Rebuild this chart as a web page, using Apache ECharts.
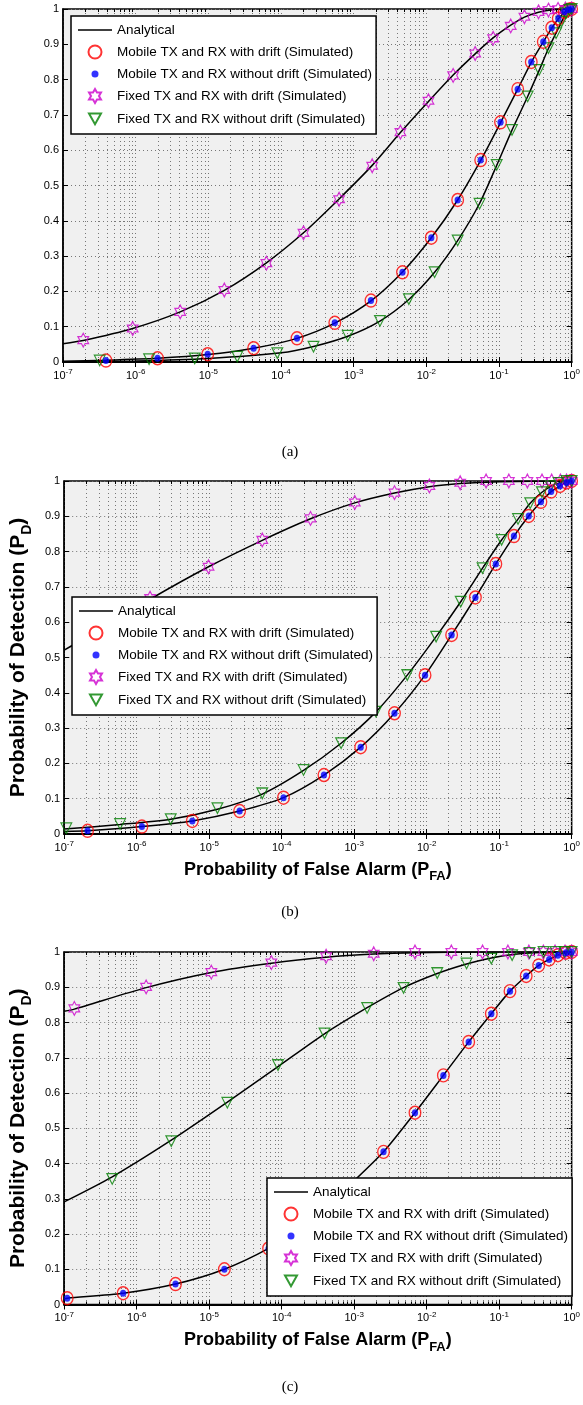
<!DOCTYPE html>
<html>
<head>
<meta charset="utf-8">
<script src="https://cdn.jsdelivr.net/npm/echarts@6/dist/echarts.min.js"></script>
<style>
  html, body { margin: 0; padding: 0; background: #fff; }
  #chart { width: 583px; height: 1405px; }
</style>
</head>
<body>
<div id="chart"></div>
<script>
// ---------------- data (P_FA, P_D) ----------------
const NAME_ANALYTICAL = 'Analytical';
const NAME_MOBILE_DRIFT = 'Mobile TX and RX with drift (Simulated)';
const NAME_MOBILE_NODRIFT = 'Mobile TX and RX without drift (Simulated)';
const NAME_FIXED_DRIFT = 'Fixed TX and RX with drift (Simulated)';
const NAME_FIXED_NODRIFT = 'Fixed TX and RX without drift (Simulated)';

const xExponents = [-7, -6, -5, -4, -3, -2, -1, 0];
const yTicks = [0, 0.1, 0.2, 0.3, 0.4, 0.5, 0.6, 0.7, 0.8, 0.9, 1];
const panelCaptions = ['(a)', '(b)', '(c)'];

// panel (a)
const aCurveFixedDrift = [[1e-7,0.052],[1.9e-7,0.061],[9.1e-7,0.095],[4.1e-6,0.142],[1.66e-5,0.203],[6.3e-5,0.281],[2.04e-4,0.366],[6.3e-4,0.462],[1.8e-3,0.557],[4.4e-3,0.65],[1.07e-2,0.738],[2.34e-2,0.813],[4.7e-2,0.873],[8.3e-2,0.918],[0.145,0.954],[0.224,0.977],[0.35,0.991],[0.55,0.998],[1,1]];
const aCurveMobile = [[1e-7,0.002],[3.9e-7,0.005],[2.0e-6,0.0105],[9.8e-6,0.021],[4.2e-5,0.039],[1.66e-4,0.067],[5.5e-4,0.11],[1.73e-3,0.173],[4.7e-3,0.255],[1.17e-2,0.352],[2.7e-2,0.459],[5.6e-2,0.571],[0.105,0.678],[0.181,0.773],[0.278,0.849],[0.407,0.907],[0.532,0.946],[0.655,0.972],[0.79,0.99],[1,1]];
const aCurveFixedNoDrift = [[1e-7,0.0005],[1e-6,0.003],[1e-5,0.01],[1e-4,0.026],[2.8e-4,0.044],[8.3e-4,0.073],[2.3e-3,0.116],[5.75e-3,0.177],[1.3e-2,0.254],[2.7e-2,0.344],[5.4e-2,0.449],[9.3e-2,0.557],[0.151,0.657],[0.248,0.752],[0.357,0.826],[0.479,0.888],[0.61,0.932],[0.724,0.963],[0.83,0.985],[1,1]];
const aMobileDrift = [[3.9e-7,0.004],[2.0e-6,0.0105],[9.8e-6,0.022],[4.2e-5,0.039],[1.66e-4,0.067],[5.5e-4,0.111],[1.73e-3,0.174],[4.7e-3,0.254],[1.17e-2,0.352],[2.7e-2,0.459],[5.6e-2,0.572],[0.105,0.679],[0.181,0.773],[0.278,0.85],[0.407,0.907],[0.532,0.947],[0.655,0.973],[0.79,0.992],[0.9,0.998],[1,1]];
const aMobileNoDrift = [[3.9e-7,0.004],[2.0e-6,0.0105],[9.8e-6,0.022],[4.2e-5,0.039],[1.66e-4,0.067],[5.5e-4,0.111],[1.73e-3,0.174],[4.7e-3,0.254],[1.17e-2,0.352],[2.7e-2,0.459],[5.6e-2,0.572],[0.105,0.679],[0.181,0.773],[0.278,0.85],[0.407,0.907],[0.532,0.947],[0.655,0.973],[0.79,0.992],[0.9,0.998],[1,1]];
const aFixedDrift = [[1.9e-7,0.062],[9.1e-7,0.095],[4.1e-6,0.142],[1.66e-5,0.204],[6.3e-5,0.28],[2.04e-4,0.366],[6.3e-4,0.461],[1.8e-3,0.556],[4.4e-3,0.651],[1.07e-2,0.74],[2.34e-2,0.812],[4.7e-2,0.874],[8.3e-2,0.917],[0.145,0.952],[0.224,0.978],[0.35,0.992],[0.48,0.997],[0.65,0.999],[0.82,1],[1,1]];
const aFixedNoDrift = [[3.2e-7,0.004],[1.53e-6,0.008],[6.5e-6,0.01],[2.5e-5,0.015],[8.9e-5,0.025],[2.8e-4,0.043],[8.3e-4,0.074],[2.3e-3,0.116],[5.75e-3,0.178],[1.3e-2,0.254],[2.7e-2,0.344],[5.4e-2,0.448],[9.3e-2,0.558],[0.151,0.657],[0.248,0.752],[0.357,0.827],[0.479,0.889],[0.61,0.931],[0.724,0.964],[0.83,0.988],[0.93,0.997],[1,1]];

// panel (b)
const bCurveFixedDrift = [[1e-7,0.521],[2.5e-7,0.568],[1.53e-6,0.665],[9.8e-6,0.757],[5.4e-5,0.832],[2.5e-4,0.893],[1.02e-3,0.938],[3.6e-3,0.966],[1.09e-2,0.984],[2.9e-2,0.993],[0.1,0.998],[1,1]];
const bCurveMobile = [[1e-7,0.007],[2.1e-7,0.009],[1.18e-6,0.021],[5.85e-6,0.037],[2.63e-5,0.065],[1.06e-4,0.103],[3.83e-4,0.167],[1.23e-3,0.246],[3.6e-3,0.342],[9.5e-3,0.45],[2.21e-2,0.564],[4.7e-2,0.67],[9.0e-2,0.765],[0.16,0.844],[0.256,0.901],[0.377,0.941],[0.521,0.97],[0.69,0.986],[0.85,0.996],[1,1]];
const bCurveFixedNoDrift = [[1e-7,0.014],[5.9e-7,0.027],[2.95e-6,0.042],[1.3e-5,0.07],[5.4e-5,0.113],[2.0e-4,0.18],[6.6e-4,0.257],[2.0e-3,0.346],[5.4e-3,0.45],[1.35e-2,0.559],[2.95e-2,0.658],[5.9e-2,0.753],[0.108,0.833],[0.182,0.892],[0.268,0.937],[0.389,0.968],[0.513,0.985],[0.66,0.994],[0.85,0.999],[1,1]];
const bMobileDrift = [[2.1e-7,0.009],[1.18e-6,0.021],[5.85e-6,0.037],[2.63e-5,0.065],[1.06e-4,0.103],[3.83e-4,0.167],[1.23e-3,0.246],[3.6e-3,0.342],[9.5e-3,0.45],[2.21e-2,0.564],[4.7e-2,0.67],[9.0e-2,0.765],[0.16,0.844],[0.256,0.901],[0.377,0.941],[0.521,0.97],[0.69,0.986],[0.85,0.996],[1,1]];
const bMobileNoDrift = [[2.1e-7,0.009],[1.18e-6,0.021],[5.85e-6,0.037],[2.63e-5,0.065],[1.06e-4,0.103],[3.83e-4,0.167],[1.23e-3,0.246],[3.6e-3,0.342],[9.5e-3,0.45],[2.21e-2,0.564],[4.7e-2,0.67],[9.0e-2,0.765],[0.16,0.844],[0.256,0.901],[0.377,0.941],[0.521,0.97],[0.69,0.986],[0.85,0.996],[1,1]];
const bFixedDrift = [[2.5e-7,0.57],[1.53e-6,0.668],[9.8e-6,0.757],[5.4e-5,0.833],[2.5e-4,0.894],[1.02e-3,0.939],[3.6e-3,0.967],[1.09e-2,0.986],[2.9e-2,0.995],[6.6e-2,1],[0.136,1],[0.245,1],[0.39,1],[0.53,1],[0.7,1],[0.85,1],[1,1]];
const bFixedNoDrift = [[1.07e-7,0.016],[5.9e-7,0.028],[2.95e-6,0.042],[1.3e-5,0.073],[5.4e-5,0.115],[2.0e-4,0.181],[6.6e-4,0.257],[2.0e-3,0.346],[5.4e-3,0.45],[1.35e-2,0.559],[2.95e-2,0.658],[5.9e-2,0.753],[0.108,0.833],[0.182,0.892],[0.268,0.937],[0.389,0.968],[0.513,0.985],[0.66,0.994],[0.85,1],[1,1]];

// panel (c)
const cCurveFixedDrift = [[1e-7,0.832],[1.38e-7,0.838],[1.35e-6,0.899],[1.07e-5,0.942],[7.2e-5,0.968],[4.1e-4,0.985],[1.86e-3,0.994],[6.9e-3,0.998],[5.9e-2,1],[1,1]];
const cCurveMobile = [[1e-7,0.016],[1.1e-7,0.018],[6.5e-7,0.032],[3.43e-6,0.058],[1.62e-5,0.1],[6.6e-5,0.159],[2.5e-4,0.234],[8.1e-4,0.333],[2.54e-3,0.433],[6.9e-3,0.544],[1.7e-2,0.65],[3.8e-2,0.745],[7.8e-2,0.825],[0.141,0.889],[0.236,0.932],[0.351,0.962],[0.49,0.979],[0.646,0.991],[0.83,0.998],[1,1]];
const cCurveFixedNoDrift = [[1e-7,0.291],[4.6e-7,0.362],[3.0e-6,0.466],[1.78e-5,0.574],[8.9e-5,0.675],[3.9e-4,0.768],[1.51e-3,0.842],[4.8e-3,0.899],[1.4e-2,0.939],[3.55e-2,0.966],[7.8e-2,0.983],[0.151,0.993],[0.3,0.998],[1,1]];
const cMobileDrift = [[1.1e-7,0.018],[6.5e-7,0.032],[3.43e-6,0.058],[1.62e-5,0.1],[6.6e-5,0.159],[2.5e-4,0.234],[8.1e-4,0.333],[2.54e-3,0.433],[6.9e-3,0.544],[1.7e-2,0.65],[3.8e-2,0.745],[7.8e-2,0.825],[0.141,0.889],[0.236,0.932],[0.351,0.962],[0.49,0.979],[0.646,0.991],[0.83,0.998],[1,1]];
const cMobileNoDrift = [[1.1e-7,0.018],[6.5e-7,0.032],[3.43e-6,0.058],[1.62e-5,0.1],[6.6e-5,0.159],[2.5e-4,0.234],[8.1e-4,0.333],[2.54e-3,0.433],[6.9e-3,0.544],[1.7e-2,0.65],[3.8e-2,0.745],[7.8e-2,0.825],[0.141,0.889],[0.236,0.932],[0.351,0.962],[0.49,0.979],[0.646,0.991],[0.83,0.998],[1,1]];
const cFixedDrift = [[1.38e-7,0.84],[1.35e-6,0.901],[1.07e-5,0.943],[7.2e-5,0.97],[4.1e-4,0.988],[1.86e-3,0.995],[6.9e-3,1],[2.19e-2,1],[5.9e-2,1],[0.132,1],[0.257,1],[0.407,1],[0.59,1],[0.81,1],[1,1]];
const cFixedNoDrift = [[4.6e-7,0.356],[3.0e-6,0.463],[1.78e-5,0.572],[8.9e-5,0.679],[3.9e-4,0.769],[1.51e-3,0.841],[4.8e-3,0.898],[1.4e-2,0.94],[3.55e-2,0.967],[7.8e-2,0.981],[0.151,0.991],[0.263,0.997],[0.41,1],[0.6,1],[0.8,1],[1,1]];

// ---------------- layout & style ----------------
const FONT = 'Liberation Sans';
const GRID_LEFT = 63, GRID_WIDTH = 514;
const panels = [
  { top: 9,   height: 353,   legendLeft: 71,  legendTop: 16,   captionY: 452,  titles: false,
    curves: [aCurveFixedDrift, aCurveMobile, aCurveFixedNoDrift],
    marks: [aMobileDrift, aMobileNoDrift, aFixedDrift, aFixedNoDrift] },
  { top: 481, height: 353,   legendLeft: 72,  legendTop: 597,  captionY: 912,  titles: true,
    curves: [bCurveFixedDrift, bCurveMobile, bCurveFixedNoDrift],
    marks: [bMobileDrift, bMobileNoDrift, bFixedDrift, bFixedNoDrift] },
  { top: 952, height: 352.5, legendLeft: 267, legendTop: 1178, captionY: 1387, titles: true,
    curves: [cCurveFixedDrift, cCurveMobile, cCurveFixedNoDrift],
    marks: [cMobileDrift, cMobileNoDrift, cFixedDrift, cFixedNoDrift] }
];

// marker shapes drawn inside a 14x14 frame so that relative sizes are kept
const FRAME = 'M0,0M14,14';
const ICON_LINE = 'path://M0,0M34,14M0,6.3L34,6.3L34,7.7L0,7.7Z';
const ICON_CIRCLE = 'path://' + FRAME + 'M0.5,7a6.5,6.5 0 1 0 13,0a6.5,6.5 0 1 0 -13,0Z';
const ICON_DOT = 'path://' + FRAME + 'M3.5,7a3.5,3.5 0 1 0 7,0a3.5,3.5 0 1 0 -7,0Z';
const ICON_STAR = 'path://' + FRAME + 'M7,0.1L8.99,3.55L12.98,3.55L10.98,7L12.98,10.45L8.99,10.45L7,13.9L5.01,10.45L1.02,10.45L3.02,7L1.02,3.55L5.01,3.55Z';
const ICON_TRI = 'path://' + FRAME + 'M1,1.6L13,1.6L7,12.2Z';
const MARK_SIZE = [12.5, 14];

const markStyles = [
  { name: NAME_MOBILE_DRIFT,   symbol: ICON_CIRCLE, itemStyle: { color: 'transparent', borderColor: '#ff0000', borderWidth: 1.4 }, z: 4 },
  { name: NAME_MOBILE_NODRIFT, symbol: ICON_DOT,    itemStyle: { color: '#0000ff', borderWidth: 0 }, z: 5 },
  { name: NAME_FIXED_DRIFT,    symbol: ICON_STAR,   itemStyle: { color: 'transparent', borderColor: '#cc00cc', borderWidth: 1.2 }, z: 4 },
  { name: NAME_FIXED_NODRIFT,  symbol: ICON_TRI,    itemStyle: { color: 'transparent', borderColor: '#008000', borderWidth: 1.2 }, z: 4 }
];

// minor grid positions of the log axis (2..9 within every decade)
const minorPositions = [];
for (let k = -7; k < 0; k++) {
  for (let m = 2; m <= 9; m++) minorPositions.push([m * Math.pow(10, k), 0.5]);
}

const GRID_DOT_COLOR = '#777777';
const DOT_LINE = { color: GRID_DOT_COLOR, width: 1, type: [1, 3] };
const xMin = Math.pow(10, xExponents[0]);
const xMax = Math.pow(10, xExponents[xExponents.length - 1]);

const xTitle = '{t|Probability of False Alarm (P}{s|FA}{t|)}';
const yTitle = '{t|Probability of Detection (P}{s|D}{t|)}';
const xTitleRich = {
  t: { fontFamily: FONT, fontSize: 18, fontWeight: 'bold', color: '#000', verticalAlign: 'top' },
  s: { fontFamily: FONT, fontSize: 13, fontWeight: 'bold', color: '#000', verticalAlign: 'top', padding: [9, 0, 0, 0] }
};
const yTitleRich = {
  t: { fontFamily: FONT, fontSize: 21, fontWeight: 'bold', color: '#000', verticalAlign: 'top' },
  s: { fontFamily: FONT, fontSize: 14, fontWeight: 'bold', color: '#000', verticalAlign: 'top', padding: [12, 0, 0, 0] }
};

const option = {
  animation: false,
  backgroundColor: '#ffffff',
  textStyle: { fontFamily: FONT, color: '#000' },
  grid: [], xAxis: [], yAxis: [], series: [], legend: [], graphic: []
};

panels.forEach((p, i) => {
  option.grid.push({
    left: GRID_LEFT, width: GRID_WIDTH, top: p.top, height: p.height,
    show: true, backgroundColor: '#f0f0f0', borderColor: '#000', borderWidth: 1.5, z: 0
  });
  // bottom log axis with decade labels
  option.xAxis.push({
    type: 'log', logBase: 10, gridIndex: i, min: xMin, max: xMax, position: 'bottom',
    name: p.titles ? xTitle : '', nameLocation: 'middle', nameGap: 27,
    nameTextStyle: { rich: xTitleRich },
    axisLine: { show: true, lineStyle: { color: '#000', width: 2 } },
    axisTick: { show: true, inside: true, length: 5, lineStyle: { color: '#000', width: 1 } },
    axisLabel: {
      margin: 6,
      formatter: v => '{b|10}{s|' + Math.round(Math.log10(v)) + '}',
      rich: {
        b: { fontFamily: FONT, fontSize: 11, color: '#000', verticalAlign: 'bottom' },
        s: { fontFamily: FONT, fontSize: 8, color: '#000', verticalAlign: 'bottom', padding: [0, 0, 5, 0] }
      }
    },
    splitLine: { show: true, lineStyle: DOT_LINE }
  });
  // top axis: tick marks only
  option.xAxis.push({
    type: 'log', logBase: 10, gridIndex: i, min: xMin, max: xMax, position: 'top',
    axisLine: { show: false },
    axisTick: { show: true, inside: true, length: 5, lineStyle: { color: '#000', width: 1 } },
    axisLabel: { show: false }, splitLine: { show: false }
  });
  option.yAxis.push({
    type: 'value', gridIndex: i, min: yTicks[0], max: yTicks[yTicks.length - 1], interval: 0.1, position: 'left',
    name: p.titles ? yTitle : '', nameLocation: 'middle', nameRotate: 90, nameGap: 27,
    nameTextStyle: { rich: yTitleRich },
    axisLine: { show: true, lineStyle: { color: '#000', width: 1.5 } },
    axisTick: { show: true, inside: true, length: 5, lineStyle: { color: '#000', width: 1 } },
    axisLabel: { margin: 4, fontSize: 11, color: '#000', fontFamily: FONT,
                 formatter: v => String(parseFloat(v.toFixed(1))) },
    splitLine: { show: true, lineStyle: DOT_LINE }
  });
  option.yAxis.push({
    type: 'value', gridIndex: i, min: yTicks[0], max: yTicks[yTicks.length - 1], interval: 0.1, position: 'right',
    axisLine: { show: false },
    axisTick: { show: true, inside: true, length: 5, lineStyle: { color: '#000', width: 1 } },
    axisLabel: { show: false }, splitLine: { show: false }
  });

  const xi = 2 * i, yi = 2 * i;

  // minor grid lines and minor ticks of the log axis
  option.series.push({
    type: 'custom', name: 'minor-grid-' + i, xAxisIndex: xi, yAxisIndex: yi, z: 1, silent: true,
    data: minorPositions, encode: { x: 0, y: 1 },
    renderItem: (params, api) => {
      const x = Math.round(api.coord([api.value(0), 0.5])[0]) + 0.5;
      const cs = params.coordSys;
      const y0 = cs.y, y1 = cs.y + cs.height;
      return { type: 'group', children: [
        { type: 'line', shape: { x1: x, y1: y0, x2: x, y2: y1 }, style: { stroke: GRID_DOT_COLOR, lineWidth: 1, lineDash: [1, 3] } },
        { type: 'line', shape: { x1: x, y1: y0, x2: x, y2: y0 + 3 }, style: { stroke: '#000', lineWidth: 1 } },
        { type: 'line', shape: { x1: x, y1: y1, x2: x, y2: y1 - 3 }, style: { stroke: '#000', lineWidth: 1 } }
      ] };
    }
  });

  // analytical curves
  p.curves.forEach(curve => {
    option.series.push({
      type: 'line', name: NAME_ANALYTICAL, xAxisIndex: xi, yAxisIndex: yi, z: 3,
      data: curve, symbol: 'none', showSymbol: false, smooth: 0.25,
      itemStyle: { color: '#000' }, lineStyle: { color: '#000', width: 1.5 }, silent: true
    });
  });

  // simulated points
  p.marks.forEach((pts, k) => {
    const st = markStyles[k];
    option.series.push({
      type: 'scatter', name: st.name, xAxisIndex: xi, yAxisIndex: yi, z: st.z, clip: false,
      data: pts, symbol: st.symbol, symbolSize: MARK_SIZE, itemStyle: st.itemStyle, silent: true
    });
  });

  option.legend.push({
    orient: 'vertical', left: p.legendLeft, top: p.legendTop, z: 10,
    padding: [7, 4, 7, 7], itemGap: 7, itemWidth: 34, itemHeight: 14,
    backgroundColor: '#ffffff', borderColor: '#000', borderWidth: 1.5, borderRadius: 0,
    selectedMode: false,
    textStyle: { fontFamily: FONT, fontSize: 13.5, color: '#000', lineHeight: 14, padding: [0, 0, 0, 0] },
    data: [
      { name: NAME_ANALYTICAL, icon: ICON_LINE, itemStyle: { color: '#000', borderWidth: 0 } },
      { name: NAME_MOBILE_DRIFT, icon: ICON_CIRCLE },
      { name: NAME_MOBILE_NODRIFT, icon: ICON_DOT },
      { name: NAME_FIXED_DRIFT, icon: ICON_STAR },
      { name: NAME_FIXED_NODRIFT, icon: ICON_TRI }
    ]
  });

  option.graphic.push({
    type: 'text', x: 290, y: p.captionY, silent: true,
    style: { text: panelCaptions[i], fontFamily: 'Liberation Serif', fontSize: 15, fill: '#000',
             align: 'center', verticalAlign: 'middle' }
  });
});

const chart = echarts.init(document.getElementById('chart'), null, { renderer: 'canvas' });
chart.setOption(option);
</script>
</body>
</html>
